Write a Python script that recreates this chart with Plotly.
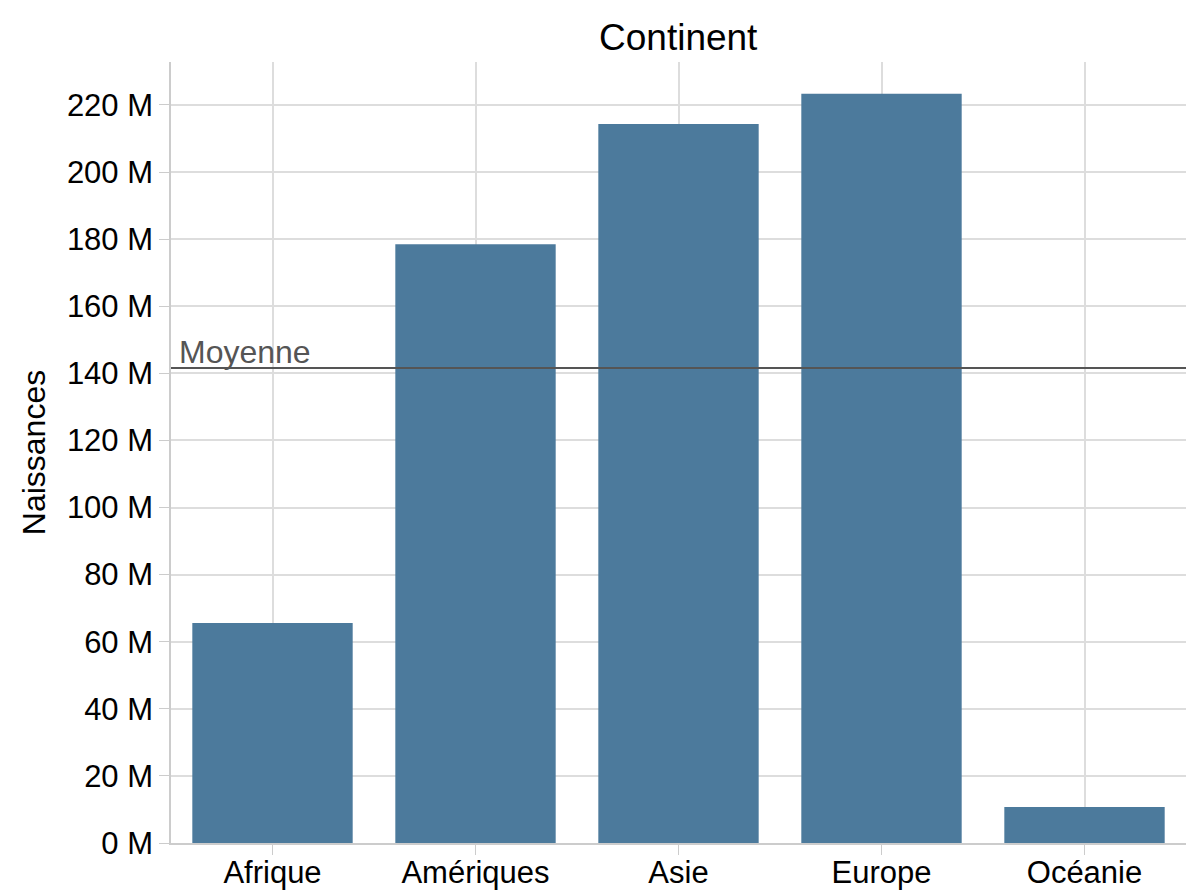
import plotly.graph_objects as go

# Data (millions of births per continent)
continents = ["Afrique", "Amériques", "Asie", "Europe", "Océanie"]
births_m = [65.6, 178.5, 214.3, 223.3, 10.7]
mean_births_m = 141.6
y_ticks = [0, 20, 40, 60, 80, 100, 120, 140, 160, 180, 200, 220]
y_tick_labels = [f"{v} M" for v in y_ticks]

BAR_COLOR = "#4c7a9c"
GRID_COLOR = "#dddddd"
AXIS_COLOR = "#cccccc"
FONT = "Liberation Sans, Arial, sans-serif"

fig = go.Figure(
    data=[
        go.Bar(
            x=continents,
            y=births_m,
            marker=dict(color=BAR_COLOR, line=dict(width=0)),
            showlegend=False,
        )
    ]
)

# Mean line across the whole plot
fig.add_shape(
    type="line",
    xref="paper",
    x0=0,
    x1=1,
    yref="y",
    y0=mean_births_m,
    y1=mean_births_m,
    line=dict(color="#555555", width=2),
)
fig.add_annotation(
    text="Moyenne",
    xref="paper",
    x=0.006,
    xanchor="left",
    yref="y",
    y=mean_births_m,
    yanchor="bottom",
    showarrow=False,
    font=dict(size=32, color="#555555", family=FONT),
    yshift=-4,
)

# X axis title sits on top of the chart
fig.add_annotation(
    text="Continent",
    xref="paper",
    x=0.5,
    yref="paper",
    y=1,
    yanchor="bottom",
    yshift=2,
    showarrow=False,
    font=dict(size=37, color="#000000", family=FONT),
)

# page body adds an 8px offset, margins compensate for it
fig.update_layout(
    width=1200,
    height=896,
    margin=dict(l=163, r=22, t=54, b=61),
    plot_bgcolor="white",
    paper_bgcolor="white",
    bargap=0.21,
    font=dict(family=FONT, size=31, color="#000000"),
    xaxis=dict(
        range=[-0.5, 4.5],
        automargin=False,
        showgrid=True,
        gridcolor=GRID_COLOR,
        gridwidth=1.5,
        ticks="outside",
        ticklen=10,
        tickcolor=AXIS_COLOR,
        ticklabelstandoff=-9,
        showline=True,
        linecolor=AXIS_COLOR,
        linewidth=1.5,
        tickfont=dict(size=31),
    ),
    yaxis=dict(
        range=[0, 232.8],
        automargin=False,
        tickmode="array",
        tickvals=y_ticks,
        ticktext=y_tick_labels,
        showgrid=True,
        gridcolor=GRID_COLOR,
        gridwidth=1.5,
        ticks="outside",
        ticklen=10,
        tickcolor=AXIS_COLOR,
        showline=True,
        linecolor=AXIS_COLOR,
        linewidth=1.5,
        zeroline=False,
        tickfont=dict(size=31),
        title=dict(text="Naissances", font=dict(size=32), standoff=12),
    ),
)

fig.write_html("out.html")
